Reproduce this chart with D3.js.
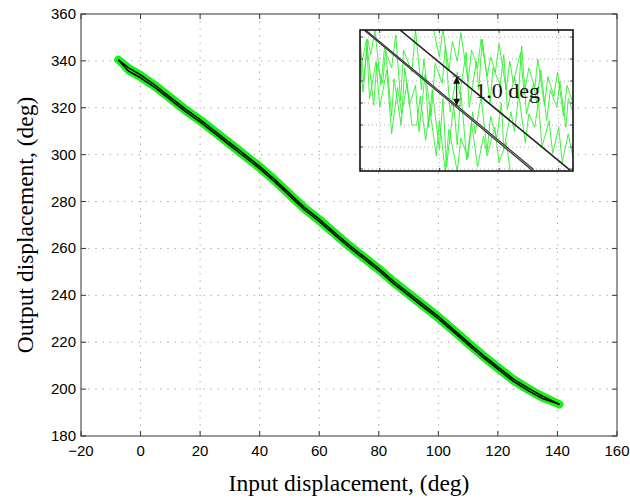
<!DOCTYPE html>
<html><head><meta charset="utf-8">
<script src="https://cdn.jsdelivr.net/npm/d3@7"></script>
<style>body{margin:0;background:#fff}svg{display:block}</style>
</head><body>
<svg id="chart" width="630" height="498"></svg>
<script>
// ---------- data ----------
const xTicks = [-20, 0, 20, 40, 60, 80, 100, 120, 140, 160];
const yTicks = [180, 200, 220, 240, 260, 280, 300, 320, 340, 360];
const inputDeg  = [-7.5, -4, 0, 5, 10, 15, 20, 25, 30, 35, 40, 45, 50, 55, 60, 65, 70, 75, 80, 85, 90, 95, 100, 105, 110, 115, 120, 125, 130, 135, 140.7];
const outputFwd = [340.5, 337, 334, 329.5, 324.5, 319.5, 315, 310, 305, 300, 295, 289.5, 283.5, 277.5, 272.5, 267, 261.5, 256.5, 251.5, 246, 241, 236, 231, 225.5, 220, 214.5, 209.5, 204.5, 200.5, 197, 193.5];
const outputRev = [340.5, 335.6, 332.8, 328.5, 323.5, 318.5, 314, 309, 304, 299, 294, 288.5, 282.5, 276.5, 271.5, 266, 260.5, 255.5, 250.5, 245, 240, 235, 230, 224.5, 219, 213.5, 208.5, 203.5, 199.5, 196, 193.5];

// inset (zoomed detail, local units)
const insetXTicks = [0, 1, 2, 3];
const insetYTicks = [0, 1, 2, 3, 4, 5, 6];
const insetUpper  = [[0.34, 6.32], [3.19, -0.045]];
const insetLowerA = [[-0.25, 6.35], [2.585, -0.02]];
const insetLowerB = [[-0.25, 6.29], [2.555, -0.07]];
const trace1 = [[-0.33,6.0],[-0.27,4.0],[-0.2,5.9],[-0.15,5.2],[-0.08,6.3],[0.02,3.8],[0.08,5.5],[0.2,4.6],[0.27,6.1],[0.35,3.1],[0.4,5.4],[0.54,4.4],[0.6,6.3],[0.7,3.6],[0.74,5.0],[0.86,2.4],[0.93,4.8],[1.05,3.9],[1.1,5.6],[1.18,2.6],[1.3,4.4],[1.34,3.4],[1.45,5.3],[1.5,2.8],[1.62,4.9],[1.66,3.6],[1.72,5.9],[1.85,3.0],[1.9,4.6],[2.02,3.8],[2.08,5.2],[2.14,2.7],[2.26,4.2],[2.32,3.2],[2.38,5.6],[2.46,2.5],[2.58,3.9],[2.63,3.0],[2.7,4.5],[2.8,2.2],[2.86,3.6],[2.97,2.8],[3.02,4.0],[3.12,1.9],[3.16,3.2],[3.24,2.6]];
const trace2 = [[-0.33,5.2],[-0.28,3.5],[-0.21,5.6],[-0.1,2.9],[-0.05,4.8],[0.05,3.9],[0.1,5.4],[0.2,2.4],[0.24,4.1],[0.36,2.0],[0.42,4.6],[0.5,2.9],[0.6,3.8],[0.66,1.7],[0.76,4.3],[0.82,1.9],[0.88,3.6],[1.0,0.9],[1.06,3.2],[1.12,0.1],[1.24,2.9],[1.3,1.1],[1.36,3.5],[1.46,0.4],[1.56,2.6],[1.6,1.6],[1.7,3.3],[1.8,0.8],[1.86,2.4],[1.96,1.4],[2.04,3.0],[2.08,0.9],[2.2,2.6],[2.26,1.7],[2.33,3.4],[2.44,1.2],[2.5,2.5],[2.6,1.9],[2.66,3.1],[2.72,1.0],[2.84,2.2],[2.9,0.7],[3.0,1.9],[3.06,0.3],[3.16,1.6],[3.24,0.5]];
const trace3 = [[-0.33,4.4],[-0.22,5.9],[-0.17,3.2],[-0.06,4.9],[0.0,2.8],[0.12,4.5],[0.2,1.6],[0.3,3.7],[0.37,2.5],[0.46,3.9],[0.54,2.0],[0.62,2.0],[0.68,3.3],[0.77,1.3],[0.84,2.7],[0.95,0.6],[1.0,2.2],[1.1,-0.1],[1.16,1.8],[1.3,-0.1],[1.36,1.4],[1.48,0.5],[1.54,2.1],[1.64,0.1],[1.74,1.5],[1.8,0.6],[1.93,1.9],[2.0,0.3],[2.12,1.2],[2.19,-0.1]];
const trace4 = [[0.9,6.35],[1.0,5.1],[1.06,6.35],[1.16,4.5],[1.22,5.8],[1.3,4.9],[1.36,6.2],[1.48,4.0],[1.54,5.4],[1.64,4.6],[1.7,5.9],[1.8,4.2],[1.86,5.1],[1.94,4.4],[2.0,5.7],[2.12,3.6],[2.18,4.9],[2.24,3.9],[2.36,5.3],[2.42,3.4],[2.5,4.6],[2.6,3.7],[2.65,5.0],[2.76,2.9],[2.82,4.2],[2.92,3.3],[2.98,4.4],[3.08,2.4],[3.14,3.8],[3.24,3.0]];
const insetTraces = [trace1, trace2, trace3, trace4];
const arrowX = 1.29;
const arrowSpan = [4.20, 2.88];
const insetLabel = "1.0 deg";

// ---------- layout ----------
const svg = d3.select("#chart");
const L = 81, R = 617, T = 14, B = 436;
const x = d3.scaleLinear().domain([-20, 160]).range([L, R]);
const y = d3.scaleLinear().domain([180, 360]).range([B, T]);
const green = "#18f018";
const gridCol = "#9a9a9a";
const sans = "Liberation Sans, Arial, Helvetica, sans-serif";
const serif = "Liberation Serif, Times New Roman, serif";

// grid
const g = svg.append("g");
g.selectAll(".gx").data(xTicks.slice(1, -1)).join("line")
  .attr("x1", d => x(d)).attr("x2", d => x(d)).attr("y1", T).attr("y2", B)
  .attr("stroke", gridCol).attr("stroke-width", 1).attr("stroke-dasharray", "1.2,6");
g.selectAll(".gy").data(yTicks.slice(1, -1)).join("line")
  .attr("y1", d => y(d)).attr("y2", d => y(d)).attr("x1", L).attr("x2", R)
  .attr("stroke", gridCol).attr("stroke-width", 1).attr("stroke-dasharray", "1.2,6");

// data
const pts = (xs, ys) => xs.map((v, i) => [v, ys[i]]);
const line = d3.line().x(d => x(d[0])).y(d => y(d[1]));
const fwd = pts(inputDeg, outputFwd), rev = pts(inputDeg, outputRev);
svg.append("path").attr("d", line(fwd)).attr("fill", "none").attr("stroke", green)
  .attr("stroke-width", 8).attr("stroke-linejoin", "round").attr("stroke-linecap", "round");
svg.append("path").attr("d", line(rev)).attr("fill", "none").attr("stroke", green)
  .attr("stroke-width", 7).attr("stroke-linejoin", "round").attr("stroke-linecap", "round");
[fwd, rev].forEach(p => svg.append("path").attr("d", line(p)).attr("fill", "none")
  .attr("stroke", "#000").attr("stroke-width", 1.5).attr("stroke-linejoin", "round"));

// axes box + ticks (inward, both sides)
const ax = svg.append("g").attr("stroke", "#333").attr("stroke-width", 1);
ax.append("rect").attr("x", L).attr("y", T).attr("width", R - L).attr("height", B - T).attr("fill", "none");
const tl = 5;
xTicks.forEach(t => {
  ax.append("line").attr("x1", x(t)).attr("x2", x(t)).attr("y1", B).attr("y2", B - tl);
  ax.append("line").attr("x1", x(t)).attr("x2", x(t)).attr("y1", T).attr("y2", T + tl);
});
yTicks.forEach(t => {
  ax.append("line").attr("y1", y(t)).attr("y2", y(t)).attr("x1", L).attr("x2", L + tl);
  ax.append("line").attr("y1", y(t)).attr("y2", y(t)).attr("x1", R).attr("x2", R - tl);
});
const fmt = d3.format("d");
svg.append("g").selectAll("text").data(xTicks).join("text")
  .attr("x", d => x(d)).attr("y", B + 20).attr("text-anchor", "middle")
  .attr("font-family", sans).attr("font-size", 15).text(d => fmt(d));
svg.append("g").selectAll("text").data(yTicks).join("text")
  .attr("x", L - 5).attr("y", d => y(d) + 5).attr("text-anchor", "end")
  .attr("font-family", sans).attr("font-size", 15).text(d => fmt(d));

// axis titles
svg.append("text").attr("x", (L + R) / 2).attr("y", 491).attr("text-anchor", "middle")
  .attr("font-family", serif).attr("font-size", 23.5)
  .text("Input displacement, (deg)");
svg.append("text").attr("transform", `translate(33,${(T + B) / 2}) rotate(-90)`).attr("text-anchor", "middle")
  .attr("font-family", serif).attr("font-size", 23.5)
  .text("Output displacement, (deg)");

// ---------- inset ----------
const iL = 360, iR = 573, iT = 30, iB = 171;
const ix = d3.scaleLinear().domain([-0.33, 3.24]).range([iL, iR]);
const iy = d3.scaleLinear().domain([-0.09, 6.32]).range([iB, iT]);
const ins = svg.append("g");
ins.append("defs").append("clipPath").attr("id", "ic").append("rect")
  .attr("x", iL).attr("y", iT).attr("width", iR - iL).attr("height", iB - iT);
ins.append("rect").attr("x", iL).attr("y", iT).attr("width", iR - iL).attr("height", iB - iT).attr("fill", "#fff");
const ic = ins.append("g").attr("clip-path", "url(#ic)");
ic.selectAll(".igx").data(insetXTicks).join("line")
  .attr("x1", d => ix(d)).attr("x2", d => ix(d)).attr("y1", iT).attr("y2", iB)
  .attr("stroke", "#b0b0b0").attr("stroke-dasharray", "1,3");
ic.selectAll(".igy").data(insetYTicks).join("line")
  .attr("y1", d => iy(d)).attr("y2", d => iy(d)).attr("x1", iL).attr("x2", iR)
  .attr("stroke", "#b0b0b0").attr("stroke-dasharray", "1,3");
const iline = d3.line().x(d => ix(d[0])).y(d => iy(d[1]));
insetTraces.forEach(tr => ic.append("path").attr("d", iline(tr)).attr("fill", "none")
  .attr("stroke", "#2cf02c").attr("stroke-width", 0.9));
ic.append("path").attr("d", iline(insetUpper)).attr("stroke", "#222").attr("stroke-width", 1.6).attr("fill", "none");
ic.append("path").attr("d", iline([[insetLowerA[0][0], (insetLowerA[0][1] + insetLowerB[0][1]) / 2], [(insetLowerA[1][0] + insetLowerB[1][0]) / 2, (insetLowerA[1][1] + insetLowerB[1][1]) / 2]]))
  .attr("stroke", "#888").attr("stroke-width", 2.5).attr("fill", "none");
[insetLowerA, insetLowerB].forEach(p => ic.append("path").attr("d", iline(p))
  .attr("stroke", "#222").attr("stroke-width", 0.9).attr("fill", "none"));
// inset ticks
const it = ins.append("g").attr("stroke", "#444").attr("stroke-width", 1);
insetXTicks.forEach(t => {
  it.append("line").attr("x1", ix(t)).attr("x2", ix(t)).attr("y1", iT).attr("y2", iT + 3);
  it.append("line").attr("x1", ix(t)).attr("x2", ix(t)).attr("y1", iB).attr("y2", iB - 3);
});
insetYTicks.forEach(t => {
  it.append("line").attr("y1", iy(t)).attr("y2", iy(t)).attr("x1", iL).attr("x2", iL + 3);
  it.append("line").attr("y1", iy(t)).attr("y2", iy(t)).attr("x1", iR).attr("x2", iR - 3);
});
ins.append("rect").attr("x", iL).attr("y", iT).attr("width", iR - iL).attr("height", iB - iT)
  .attr("fill", "none").attr("stroke", "#111").attr("stroke-width", 1.6);
// arrow
const defs = svg.append("defs");
defs.append("marker").attr("id", "ah").attr("viewBox", "0 0 10 10").attr("refX", 10).attr("refY", 5)
  .attr("markerWidth", 8).attr("markerHeight", 7).attr("markerUnits", "userSpaceOnUse").attr("orient", "auto-start-reverse")
  .append("path").attr("d", "M0,0 L10,5 L0,10 Z").attr("fill", "#111");
const ax1 = ix(arrowX);
ins.append("line").attr("x1", ax1).attr("x2", ax1).attr("y1", iy(arrowSpan[0])).attr("y2", iy(arrowSpan[1]))
  .attr("stroke", "#111").attr("stroke-width", 1.1).attr("marker-start", "url(#ah)").attr("marker-end", "url(#ah)");
arrowSpan.forEach(v => ins.append("line").attr("x1", ax1 - 4).attr("x2", ax1 + 4).attr("y1", iy(v)).attr("y2", iy(v))
  .attr("stroke", "#555").attr("stroke-width", 0.8));
ins.append("text").attr("x", ix(1.6)).attr("y", iy(3.23)).attr("font-family", serif)
  .attr("font-size", 22).attr("fill", "#111").text(insetLabel);
</script>
</body></html>
